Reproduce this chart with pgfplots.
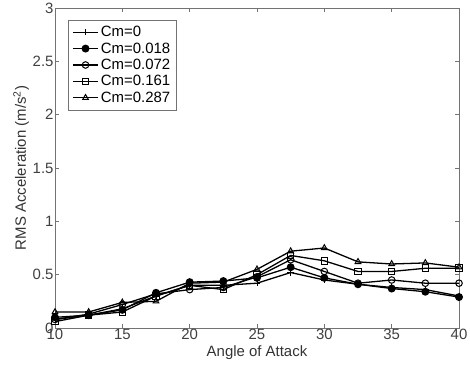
\documentclass[border=0pt]{standalone}
\usepackage{fontspec}
\setmainfont{Liberation Sans}
\usepackage{pgfplots}
\pgfplotsset{compat=1.18}
\begin{document}
\begin{tikzpicture}
\path[use as bounding box] (0,0) rectangle (470bp,370bp);
\begin{axis}[
  at={(55bp,42bp)}, anchor=south west,
  scale only axis, width=404bp, height=320bp,
  xmin=10, xmax=40, ymin=0, ymax=3,
  xtick={10,15,...,40}, ytick={0,0.5,...,3},
  yticklabels={0,0.5,1,1.5,2,2.5,3},
  tick align=inside, tick pos=both,
  major tick length=4bp,
  /pgf/number format/assume math mode=true,
  font=\fontsize{15}{17}\selectfont,
  ticklabel style={font=\fontsize{15}{17}\selectfont, text=black!75},
  xticklabel style={yshift=2bp},
  yticklabel style={xshift=2bp},
  axis line style={black!55},
  every tick/.style={black!55},
  xlabel={Angle of Attack},
  ylabel={RMS Acceleration (m/s\textsuperscript{2})},
  xlabel style={yshift=1bp, text=black!80},
  ylabel style={yshift=-3bp, text=black!80},
  legend style={at={(0.032,0.9625)}, anchor=north west, draw=black!55, fill=white,
    font=\fontsize{15}{17}\selectfont, row sep=0.5bp, inner sep=4bp},
  legend image code/.code={\draw[mark repeat=2,mark phase=2] plot coordinates {(0cm,0cm) (0.45cm,0cm) (0.9cm,0cm)};},
  legend cell align=left,
  every axis plot/.append style={black, line width=1.3pt, mark size=3.3bp, mark options={solid, line width=1pt}},
]
\addplot[mark=+] coordinates {(10,0.08)(12.5,0.12)(15,0.18)(17.5,0.30)(20,0.40)(22.5,0.40)(25,0.42)(27.5,0.52)(30,0.45)(32.5,0.41)(35,0.38)(37.5,0.36)(40,0.30)};
\addlegendentry{Cm=0}
\addplot[mark=*, mark options={fill=black}] coordinates {(10,0.10)(12.5,0.12)(15,0.17)(17.5,0.33)(20,0.43)(22.5,0.44)(25,0.47)(27.5,0.57)(30,0.47)(32.5,0.41)(35,0.37)(37.5,0.34)(40,0.29)};
\addlegendentry{Cm=0.018}
\addplot[mark=o] coordinates {(10,0.08)(12.5,0.13)(15,0.22)(17.5,0.32)(20,0.36)(22.5,0.38)(25,0.48)(27.5,0.64)(30,0.53)(32.5,0.42)(35,0.45)(37.5,0.42)(40,0.42)};
\addlegendentry{Cm=0.072}
\addplot[mark=square] coordinates {(10,0.06)(12.5,0.12)(15,0.15)(17.5,0.30)(20,0.40)(22.5,0.36)(25,0.50)(27.5,0.68)(30,0.63)(32.5,0.53)(35,0.53)(37.5,0.56)(40,0.56)};
\addlegendentry{Cm=0.161}
\addplot[mark=triangle] coordinates {(10,0.15)(12.5,0.15)(15,0.24)(17.5,0.25)(20,0.42)(22.5,0.43)(25,0.55)(27.5,0.72)(30,0.75)(32.5,0.62)(35,0.60)(37.5,0.61)(40,0.57)};
\addlegendentry{Cm=0.287}
\end{axis}
\end{tikzpicture}
\end{document}
